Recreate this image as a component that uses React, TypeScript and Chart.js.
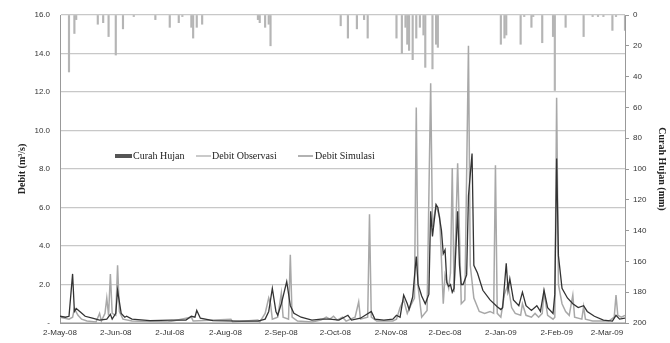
import React, { useEffect, useRef } from "react";
import { Chart, registerables } from "chart.js";

Chart.register(...registerables);

// Day offsets from 2-May-2008
const monthTickDays = [0, 31, 61, 92, 123, 153, 184, 214, 245, 276, 304];
const monthTickLabels = ["2-May-08", "2-Jun-08", "2-Jul-08", "2-Aug-08", "2-Sep-08", "2-Oct-08", "2-Nov-08", "2-Dec-08", "2-Jan-09", "2-Feb-09", "2-Mar-09"];

const rainDays = [5, 8, 9, 21, 24, 27, 31, 35, 41, 53, 61, 66, 68, 73, 74, 76, 79, 110, 111, 114, 116, 117, 156, 160, 165, 169, 171, 187, 190, 192, 193, 194, 196, 198, 200, 202, 203, 207, 209, 210, 245, 247, 248, 256, 258, 262, 263, 268, 274, 275, 281, 291, 296, 299, 302, 307, 309, 314];
const rainValues = [37, 12, 3, 6, 5, 14, 26, 9, 1, 3, 8, 5, 1, 8, 15, 8, 6, 3, 5, 8, 6, 20, 7, 15, 9, 3, 15, 15, 25, 8, 19, 23, 29, 15, 8, 13, 34, 35, 19, 21, 19, 15, 13, 19, 1, 8, 1, 18, 14, 49, 8, 14, 1, 1, 1, 10, 1, 10];

const obsDays = [0, 5, 7, 8, 10, 12, 15, 20, 22, 23, 25, 26, 27, 28, 29, 31, 32, 33, 35, 40, 60, 73, 74, 95, 96, 110, 111, 114, 116, 117, 118, 121, 123, 124, 127, 128, 129, 132, 140, 145, 148, 150, 152, 154, 157, 159, 164, 166, 167, 171, 172, 173, 176, 185, 187, 189, 191, 193, 195, 197, 198, 199, 201, 204, 206, 207, 209, 211, 213, 214, 216, 217, 218, 219, 221, 223, 225, 227, 228, 230, 233, 236, 239, 241, 242, 243, 245, 247, 249, 251, 253, 256, 257, 259, 262, 264, 266, 268, 269, 271, 274, 275, 276, 277, 279, 281, 283, 285, 286, 290, 291, 292, 296, 305, 308, 309, 310, 312, 314];
const obsValues = [0.3, 0.2, 0.3, 0.75, 0.4, 0.2, 0.1, 0.05, 0.5, 0.1, 0.5, 1.3, 0.4, 2.55, 0.5, 0.4, 3.0, 0.6, 0.2, 0.1, 0.05, 0.3, 0.1, 0.2, 0.05, 0.15, 0.05, 0.5, 1.3, 1.0, 0.2, 0.3, 1.55, 0.3, 0.2, 3.55, 0.3, 0.1, 0.05, 0.15, 0.3, 0.2, 0.35, 0.15, 0.3, 0.1, 0.3, 1.1, 0.2, 0.3, 5.65, 0.3, 0.1, 0.1, 0.2, 0.8, 1.2, 0.5, 0.93, 1.3, 11.2, 1.9, 0.3, 0.65, 12.45, 5.0, 6.1, 5.5, 1.0, 2.5, 1.8, 2.6, 8.05, 1.6, 8.3, 1.0, 1.2, 14.4, 3.0, 1.3, 0.6, 0.5, 0.6, 0.5, 8.2, 0.5, 0.3, 1.5, 2.0, 0.8, 0.5, 0.4, 1.0, 0.4, 0.3, 0.5, 0.3, 0.5, 1.6, 0.4, 0.2, 0.3, 11.7, 2.0, 1.0, 0.6, 0.4, 1.45, 0.3, 0.2, 0.85, 0.2, 0.1, 0.1, 0.3, 1.45, 0.4, 0.3, 0.4];

const simDays = [0, 3, 5, 7, 8, 9, 11, 14, 18, 22, 26, 28, 29, 31, 32, 34, 36, 37, 40, 50, 62, 70, 73, 75, 76, 78, 85, 100, 110, 114, 116, 118, 120, 121, 123, 126, 128, 130, 134, 140, 145, 150, 155, 160, 162, 167, 173, 175, 180, 185, 187, 189, 191, 193, 194, 196, 198, 199, 201, 203, 205, 206, 207, 209, 210, 212, 213, 214, 215, 216, 217, 218, 219, 221, 222, 223, 224, 226, 227, 229, 230, 232, 235, 239, 243, 245, 246, 248, 249, 250, 252, 255, 257, 259, 262, 265, 267, 269, 271, 274, 275, 276, 277, 279, 282, 285, 288, 291, 293, 297, 302, 307, 309, 311, 314];
const simValues = [0.35, 0.3, 0.35, 2.55, 0.6, 0.75, 0.6, 0.35, 0.25, 0.15, 0.2, 0.45, 0.2, 0.5, 1.7, 0.5, 0.3, 0.35, 0.2, 0.12, 0.15, 0.15, 0.35, 0.3, 0.65, 0.25, 0.12, 0.1, 0.1, 0.2, 0.6, 1.8, 0.6, 0.4, 1.0, 2.15, 0.9, 0.5, 0.3, 0.15, 0.2, 0.2, 0.15, 0.4, 0.15, 0.25, 0.6, 0.2, 0.15, 0.2, 0.4, 0.3, 1.45, 1.0, 0.7, 1.35, 3.45, 2.0, 1.4, 1.0, 1.5, 5.8, 4.5, 6.15, 6.0, 4.8, 3.6, 3.8, 2.1, 1.9, 2.0, 1.6, 1.8, 5.8, 3.0, 2.0, 2.0, 2.5, 6.6, 8.8, 3.0, 2.6, 1.7, 1.2, 0.85, 0.7, 0.8, 3.1, 1.7, 2.3, 1.2, 0.9, 1.6, 0.9, 0.65, 0.9, 0.6, 1.7, 0.8, 0.5, 1.5, 8.55, 3.5, 1.8, 1.3, 1.0, 0.8, 0.9, 0.6, 0.35, 0.15, 0.1, 0.4, 0.2, 0.25];

const legendLabels = ["Curah Hujan", "Debit Observasi", "Debit Simulasi"];

const legendPlugin = {
  id: "inlineLegend",
  afterDraw(chart: any) {
    const ctx = chart.ctx;
    ctx.save();
    ctx.font = "10px 'Liberation Serif', serif";
    ctx.textBaseline = "middle";
    const y = 156;
    ctx.fillStyle = "#555";
    ctx.fillRect(115, y - 2, 17, 4);
    ctx.fillStyle = "#222";
    ctx.fillText(legendLabels[0], 133, y);
    ctx.strokeStyle = "#b8b8b8";
    ctx.lineWidth = 1.5;
    ctx.beginPath();
    ctx.moveTo(196, y);
    ctx.lineTo(211, y);
    ctx.stroke();
    ctx.fillText(legendLabels[1], 212, y);
    ctx.strokeStyle = "#999";
    ctx.beginPath();
    ctx.moveTo(298, y);
    ctx.lineTo(313, y);
    ctx.stroke();
    ctx.fillText(legendLabels[2], 315, y);
    ctx.restore();
  },
};

export default function App() {
  const ref = useRef<HTMLCanvasElement | null>(null);
  useEffect(() => {
    if (!ref.current) return;
    const chart = new Chart(ref.current, {
      type: "bar",
      data: {
        datasets: [
          {
            type: "line",
            label: legendLabels[2],
            data: simDays.map((d, i) => ({ x: d, y: simValues[i] })),
            borderColor: "#333",
            borderWidth: 1.3,
            pointRadius: 0,
            tension: 0,
            yAxisID: "y",
            order: 1,
          } as any,
          {
            type: "line",
            label: legendLabels[1],
            data: obsDays.map((d, i) => ({ x: d, y: obsValues[i] })),
            borderColor: "#a8a8a8",
            borderWidth: 1.5,
            pointRadius: 0,
            tension: 0,
            yAxisID: "y",
            order: 2,
          } as any,
          {
            type: "bar",
            label: legendLabels[0],
            data: rainDays.map((d, i) => ({ x: d, y: rainValues[i] })),
            backgroundColor: "#b5b5b5",
            barThickness: 1.5,
            yAxisID: "y2",
            order: 3,
          } as any,
        ],
      },
      options: {
        responsive: false,
        animation: false,
        layout: { padding: { top: 15, left: 0, right: 0, bottom: 0 } },
        plugins: { legend: { display: false }, tooltip: { enabled: false } },
        scales: {
          x: {
            type: "linear",
            min: 0,
            max: 314,
            offset: false,
            afterBuildTicks: (scale: any) => {
              scale.ticks = monthTickDays.map((v) => ({ value: v }));
            },
            afterFit: (scale: any) => {
              scale.height = 20;
            },
            ticks: {
              autoSkip: false,
              maxRotation: 0,
              padding: 5,
              color: "#333",
              font: { family: "'Liberation Sans', sans-serif", size: 8 },
              callback: (_v: any, i: number) => monthTickLabels[i],
            },
            grid: { display: false, offset: false, drawTicks: false, tickLength: 0 },
            border: { display: true, color: "#999" },
          },
          y: {
            position: "left",
            min: 0,
            max: 16,
            afterBuildTicks: (scale: any) => {
              scale.ticks = [0, 2, 4, 6, 8, 10, 12, 14, 16].map((v) => ({ value: v }));
            },
            afterFit: (scale: any) => {
              scale.width = 60;
            },
            ticks: {
              padding: 10,
              color: "#333",
              font: { family: "'Liberation Sans', sans-serif", size: 8 },
              callback: (v: any) => (v === 0 ? "-" : Number(v).toFixed(1)),
            },
            grid: { color: "#c8c8c8", lineWidth: 1.3, drawTicks: false },
            border: { display: true, color: "#999" },
            title: {
              display: true,
              text: "Debit (m³/s)",
              color: "#222",
              font: { family: "'Liberation Serif', serif", size: 10, weight: "bold" },
              padding: { top: 16, bottom: 4 },
            },
          },
          y2: {
            position: "right",
            reverse: true,
            min: 0,
            max: 200,
            afterBuildTicks: (scale: any) => {
              scale.ticks = [0, 20, 40, 60, 80, 100, 120, 140, 160, 180, 200].map((v) => ({ value: v }));
            },
            afterFit: (scale: any) => {
              scale.width = 45;
            },
            ticks: {
              padding: 4,
              color: "#333",
              font: { family: "'Liberation Sans', sans-serif", size: 8 },
            },
            grid: { drawOnChartArea: false, drawTicks: true, tickLength: 4, color: "#999" },
            border: { display: true, color: "#999" },
            title: {
              display: true,
              text: "Curah Hujan (mm)",
              color: "#222",
              font: { family: "'Liberation Serif', serif", size: 10, weight: "bold" },
              padding: { top: 2, bottom: 0 },
            },
          },
        },
      } as any,
      plugins: [legendPlugin],
    });
    return () => chart.destroy();
  }, []);
  return (
    <div style={{ position: "fixed", left: 0, top: 0, width: 670, height: 343, background: "#fff" }}>
      <canvas ref={ref} width={670} height={343} />
    </div>
  );
}
